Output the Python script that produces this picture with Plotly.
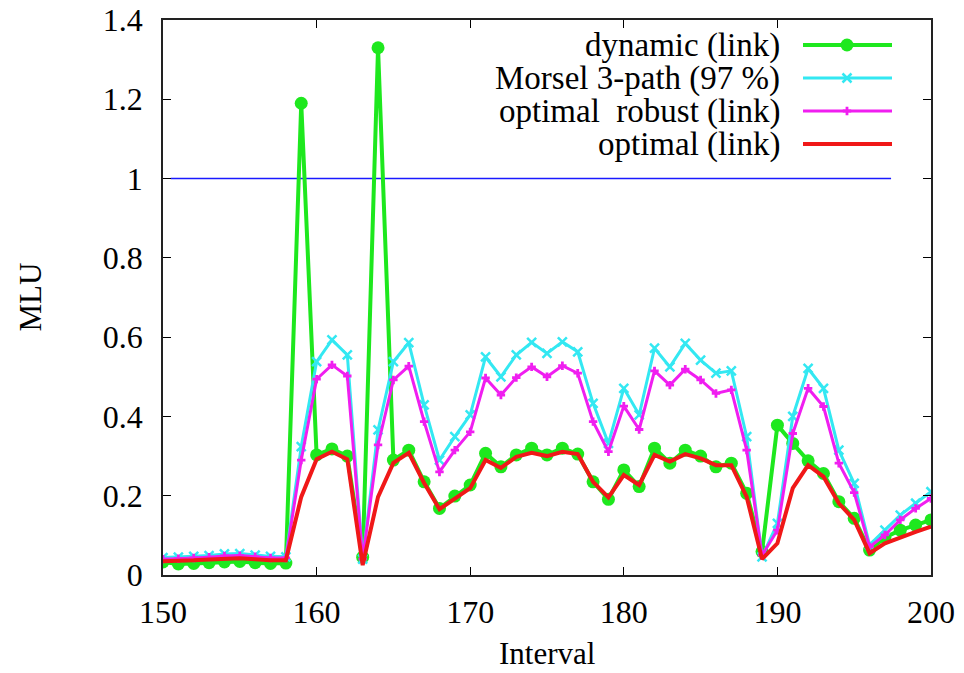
import plotly.graph_objects as go

# ---------------- data ----------------
intervals = list(range(150, 201))

dynamic_link = [0.033, 0.028, 0.029, 0.031, 0.033, 0.034, 0.031, 0.029, 0.030,
                1.19, 0.303, 0.318, 0.300, 0.045, 1.33, 0.290, 0.315, 0.235, 0.168, 0.199,
                0.227, 0.307, 0.273, 0.303, 0.320, 0.303, 0.320, 0.305, 0.235, 0.191,
                0.265, 0.223, 0.320, 0.282, 0.315, 0.300, 0.273, 0.282, 0.206, 0.059,
                0.378, 0.332, 0.288, 0.256, 0.185, 0.143, 0.063, 0.095, 0.113, 0.126, 0.139]

morsel_3path = [0.044, 0.045, 0.047, 0.049, 0.053, 0.054, 0.050, 0.047, 0.046,
                0.324, 0.538, 0.593, 0.555, 0.040, 0.366, 0.538, 0.586, 0.429, 0.290, 0.349,
                0.404, 0.550, 0.500, 0.555, 0.587, 0.559, 0.588, 0.563, 0.433, 0.332,
                0.471, 0.404, 0.572, 0.525, 0.584, 0.542, 0.509, 0.515, 0.349, 0.046,
                0.130, 0.400, 0.521, 0.471, 0.315, 0.231, 0.076, 0.113, 0.151, 0.181, 0.210]

optimal_robust = [0.040, 0.041, 0.043, 0.045, 0.048, 0.049, 0.046, 0.043, 0.043,
                  0.290, 0.494, 0.530, 0.502, 0.040, 0.328, 0.492, 0.527, 0.387, 0.260, 0.315,
                  0.361, 0.497, 0.454, 0.498, 0.525, 0.500, 0.528, 0.509, 0.387, 0.311,
                  0.426, 0.367, 0.515, 0.479, 0.519, 0.492, 0.458, 0.467, 0.315, 0.050,
                  0.113, 0.357, 0.471, 0.425, 0.282, 0.208, 0.071, 0.101, 0.139, 0.168, 0.193]

optimal_link = [0.035, 0.035, 0.037, 0.039, 0.041, 0.042, 0.040, 0.037, 0.037,
                0.197, 0.292, 0.311, 0.292, 0.025, 0.197, 0.283, 0.308, 0.232, 0.166, 0.194,
                0.219, 0.290, 0.270, 0.298, 0.308, 0.300, 0.311, 0.305, 0.235, 0.196,
                0.252, 0.227, 0.303, 0.286, 0.305, 0.294, 0.277, 0.277, 0.197, 0.040,
                0.080, 0.219, 0.277, 0.248, 0.181, 0.139, 0.055, 0.080, 0.095, 0.109, 0.122]

threshold_x = [150.5, 197.4]
threshold_y = [1.0, 1.0]

series_names = ["dynamic (link)", "Morsel 3-path (97 %)", "optimal  robust (link)", "optimal (link)"]

x_ticks = [150, 160, 170, 180, 190, 200]
y_ticks = [0, 0.2, 0.4, 0.6, 0.8, 1.0, 1.2, 1.4]

# ---------------- styles ----------------
GREEN = "#1ee81e"
CYAN = "#33e8f2"
MAGENTA = "#f01ef0"
RED = "#f01818"
BLUE = "#1a1aff"
FONT = "Liberation Serif"

styles = [
    dict(color=GREEN, width=4, marker=dict(symbol="circle", size=13, color=GREEN)),
    dict(color=CYAN, width=3, marker=dict(symbol="x-thin", size=9, color=CYAN, line=dict(color=CYAN, width=2.5))),
    dict(color=MAGENTA, width=3, marker=dict(symbol="cross", size=7, color=MAGENTA, line=dict(width=0))),
    dict(color=RED, width=4, marker=None),
]
series_values = [dynamic_link, morsel_3path, optimal_robust, optimal_link]

fig = go.Figure()

fig.add_trace(go.Scatter(x=threshold_x, y=threshold_y, mode="lines",
                         line=dict(color=BLUE, width=1.5), showlegend=False, hoverinfo="skip"))

for name, vals, st in zip(series_names, series_values, styles):
    if st["marker"] is not None:
        fig.add_trace(go.Scatter(x=intervals, y=vals, mode="lines+markers", name=name,
                                 line=dict(color=st["color"], width=st["width"]),
                                 marker=st["marker"], showlegend=False))
    else:
        fig.add_trace(go.Scatter(x=intervals, y=vals, mode="lines", name=name,
                                 line=dict(color=st["color"], width=st["width"]),
                                 showlegend=False))

# ---- custom gnuplot-style key (text right-aligned, sample on the right) ----
# overlay axis in pixel-like units covering the plot area
key_rows = [45, 78, 111, 144]
for name, st, ry in zip(series_names, styles, key_rows):
    fig.add_trace(go.Scatter(x=[803, 892], y=[ry, ry], mode="lines", xaxis="x2", yaxis="y2",
                             line=dict(color=st["color"], width=st["width"]),
                             showlegend=False, hoverinfo="skip"))
    if st["marker"] is not None:
        fig.add_trace(go.Scatter(x=[847], y=[ry], mode="markers", xaxis="x2", yaxis="y2",
                                 marker=st["marker"], showlegend=False, hoverinfo="skip"))
    fig.add_annotation(x=782, y=ry, xref="x2", yref="y2", text=name, showarrow=False,
                       xanchor="right", yanchor="middle",
                       font=dict(family=FONT, size=33, color="black"))

# axis titles
fig.add_annotation(x=(547 - 163) / 768, y=(575 - 654) / 555, xref="paper", yref="paper",
                   text="Interval", showarrow=False, xanchor="center", yanchor="middle",
                   font=dict(family=FONT, size=31, color="black"))
fig.add_annotation(x=(30 - 163) / 768, y=0.5, xref="paper", yref="paper",
                   text="MLU", showarrow=False, xanchor="center", yanchor="middle", textangle=-90,
                   font=dict(family=FONT, size=31, color="black"))

fig.update_layout(
    width=964, height=673,
    margin=dict(l=163, r=33, t=20, b=98),
    paper_bgcolor="white", plot_bgcolor="white",
    font=dict(family=FONT, size=32, color="black"),
    showlegend=False,
    xaxis=dict(range=[150, 200], tickvals=x_ticks, ticks="inside", ticklen=8, tickwidth=1.2,
               tickcolor="black", showline=True, linecolor="#222", linewidth=1.5, mirror="ticks",
               showgrid=False, zeroline=False, ticklabelstandoff=8, automargin=False,
               ticklabeloverflow="allow", tickfont=dict(family=FONT, size=32)),
    yaxis=dict(range=[0, 1.4], tickvals=y_ticks, ticks="inside", ticklen=8, tickwidth=1.2,
               tickcolor="black", showline=True, linecolor="#222", linewidth=1.5, mirror="ticks",
               showgrid=False, zeroline=False, ticklabelstandoff=12, automargin=False,
               ticklabeloverflow="allow", tickfont=dict(family=FONT, size=32)),
    xaxis2=dict(range=[163, 931], overlaying="x", visible=False, fixedrange=True),
    yaxis2=dict(range=[575, 20], overlaying="y", visible=False, fixedrange=True),
)

fig.write_html("out.html", config={"displayModeBar": False},
               post_script="document.body.style.margin='0px';document.body.style.overflow='hidden';")
